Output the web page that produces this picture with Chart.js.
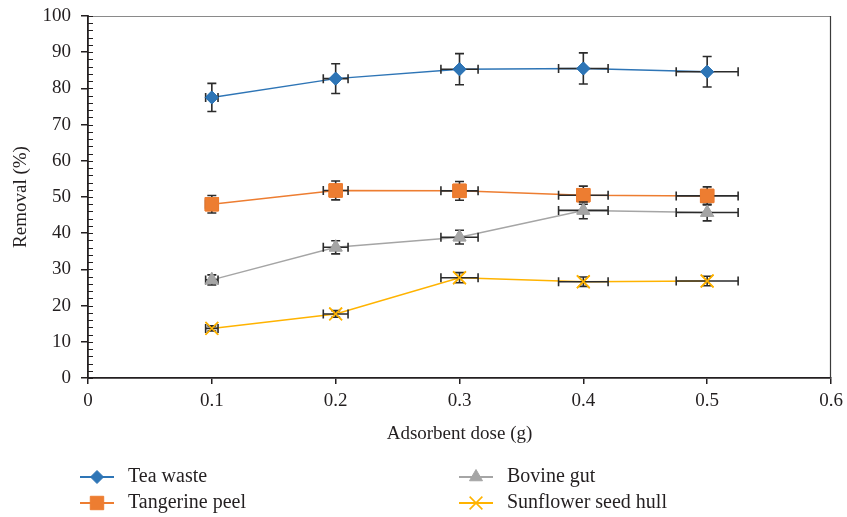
<!DOCTYPE html>
<html>
<head>
<meta charset="utf-8">
<script src="https://cdn.jsdelivr.net/npm/chart.js@4.4.1/dist/chart.umd.min.js"></script>
<style>
  html, body { margin: 0; padding: 0; background: #ffffff; }
  canvas { display: block; }
</style>
</head>
<body>
<canvas id="removalChart" width="847" height="517"></canvas>
<script>
// Adsorbent dose (g) and removal (%) per adsorbent
const doses = [0.1, 0.2, 0.3, 0.4, 0.5];
const teaWaste = [77.5, 82.7, 85.3, 85.5, 84.6];
const tangerinePeel = [48.0, 51.8, 51.7, 50.5, 50.3];
const bovineGut = [27.1, 36.1, 38.9, 46.3, 45.7];
const sunflowerHull = [13.7, 17.7, 27.7, 26.6, 26.8];

// Error bar half-widths: removal (%) and dose (g)
const teaWasteErr = [3.9, 4.1, 4.3, 4.3, 4.2];
const tangerinePeelErr = [2.4, 2.6, 2.6, 2.5, 2.5];
const bovineGutErr = [1.4, 1.8, 1.9, 2.3, 2.3];
const sunflowerHullErr = [0.7, 0.9, 1.4, 1.3, 1.3];
const doseErr = [0.005, 0.010, 0.015, 0.020, 0.025];

const seriesNames = ['Tea waste', 'Tangerine peel', 'Bovine gut', 'Sunflower seed hull'];
const xTickLabels = ['0', '0.1', '0.2', '0.3', '0.4', '0.5', '0.6'];
const yTickLabels = ['0', '10', '20', '30', '40', '50', '60', '70', '80', '90', '100'];

const INK = '#231f20';
const FONT = "'Liberation Serif', 'DejaVu Serif', serif";

function points(values) {
  return doses.map((d, i) => ({ x: d, y: values[i] }));
}

function series(label, values, yErr, color, style, radius, order) {
  return {
    label,
    data: points(values),
    yErr,
    xErr: doseErr,
    borderColor: color,
    backgroundColor: color,
    borderWidth: 1.5,
    pointStyle: style,
    pointRadius: radius,
    pointHoverRadius: radius,
    pointBorderWidth: style === 'crossRot' ? 1.6 : 1,
    pointBackgroundColor: color,
    pointBorderColor: color,
    tension: 0,
    fill: false,
    order
  };
}

// Error bars are drawn per series, then that series' markers are painted again on top
const errorBars = {
  id: 'errorBars',
  afterDatasetsDraw(chart) {
    const { ctx, scales: { x, y } } = chart;
    const metas = chart.getSortedVisibleDatasetMetas().slice().reverse();
    metas.forEach(meta => {
      const ds = chart.data.datasets[meta.index];
      ctx.save();
      ctx.strokeStyle = '#2b2b2b';
      ctx.lineWidth = 1.6;
      ctx.lineCap = 'butt';
      ds.data.forEach((p, i) => {
        const px = x.getPixelForValue(p.x);
        const py = y.getPixelForValue(p.y);
        const yt = y.getPixelForValue(p.y + ds.yErr[i]);
        const yb = y.getPixelForValue(p.y - ds.yErr[i]);
        const xl = x.getPixelForValue(p.x - ds.xErr[i]);
        const xr = x.getPixelForValue(p.x + ds.xErr[i]);
        const cap = 4.5;
        ctx.beginPath();
        ctx.moveTo(px, yt); ctx.lineTo(px, yb);
        ctx.moveTo(px - cap, yt); ctx.lineTo(px + cap, yt);
        ctx.moveTo(px - cap, yb); ctx.lineTo(px + cap, yb);
        ctx.moveTo(xl, py); ctx.lineTo(xr, py);
        ctx.moveTo(xl, py - cap); ctx.lineTo(xl, py + cap);
        ctx.moveTo(xr, py - cap); ctx.lineTo(xr, py + cap);
        ctx.stroke();
      });
      ctx.restore();
      meta.data.forEach(el => el.draw(ctx, chart.chartArea));
    });
  }
};

// Plot frame (top/right) and minor ticks inside the value axis
const frame = {
  id: 'frame',
  beforeDatasetsDraw(chart) {
    const { ctx, chartArea: a, scales: { y } } = chart;
    ctx.save();
    ctx.lineWidth = 1.2;
    ctx.strokeStyle = '#8a8a8a';
    ctx.beginPath();
    ctx.moveTo(a.left, a.top + 0.5); ctx.lineTo(a.right, a.top + 0.5);
    ctx.stroke();
    ctx.strokeStyle = '#3a3a3a';
    ctx.beginPath();
    ctx.moveTo(a.right - 0.5, a.top); ctx.lineTo(a.right - 0.5, a.bottom);
    ctx.stroke();
    ctx.strokeStyle = INK;
    ctx.lineWidth = 1;
    ctx.beginPath();
    for (let v = y.min; v <= y.max; v += 2) {
      const py = Math.round(y.getPixelForValue(v)) + 0.5;
      ctx.moveTo(a.left, py); ctx.lineTo(a.left + 5, py);
    }
    ctx.stroke();
    ctx.restore();
  }
};

// Two-column legend under the axis title
const twoColumnLegend = {
  id: 'twoColumnLegend',
  afterDraw(chart) {
    const { ctx } = chart;
    const cols = [80, 459];
    const rows = [477, 503];
    const slots = [[0, 0, 0], [2, 1, 0], [1, 0, 1], [3, 1, 1]];
    const drawPoint = Chart.helpers && Chart.helpers.drawPoint;
    slots.forEach(([di, c, r]) => {
      const ds = chart.data.datasets[di];
      const x0 = cols[c], yc = rows[r];
      ctx.save();
      ctx.strokeStyle = ds.borderColor;
      ctx.lineWidth = 2;
      ctx.beginPath();
      ctx.moveTo(x0, yc); ctx.lineTo(x0 + 34, yc);
      ctx.stroke();
      if (drawPoint) {
        ctx.fillStyle = ds.backgroundColor;
        ctx.strokeStyle = ds.borderColor;
        ctx.lineWidth = ds.pointBorderWidth;
        drawPoint(ctx, { pointStyle: ds.pointStyle, radius: ds.pointRadius, rotation: 0, borderWidth: ds.pointBorderWidth }, x0 + 17, yc);
      }
      ctx.fillStyle = INK;
      ctx.font = "20px " + FONT;
      ctx.textAlign = 'left';
      ctx.textBaseline = 'middle';
      ctx.fillText(ds.label, x0 + 48, yc);
      ctx.restore();
    });
  }
};

new Chart(document.getElementById('removalChart'), {
  type: 'line',
  data: {
    datasets: [
      series(seriesNames[0], teaWaste, teaWasteErr, '#2e75b6', 'rectRot', 6.5, 4),
      series(seriesNames[1], tangerinePeel, tangerinePeelErr, '#ed7d31', 'rect', 9.5, 3),
      series(seriesNames[2], bovineGut, bovineGutErr, '#a5a5a5', 'triangle', 7.5, 2),
      series(seriesNames[3], sunflowerHull, sunflowerHullErr, '#ffb300', 'crossRot', 9, 1)
    ]
  },
  options: {
    responsive: false,
    animation: false,
    events: [],
    layout: { padding: { top: 16, right: 16, left: 0, bottom: 0 } },
    plugins: {
      legend: { display: false },
      tooltip: { enabled: false }
    },
    scales: {
      x: {
        type: 'linear',
        min: 0,
        max: 0.6,
        afterFit(scale) {
          scale.height = 139;
          scale.paddingLeft = 0;
          scale.paddingRight = 0;
        },
        afterBuildTicks(scale) {
          scale.ticks = xTickLabels.map(t => ({ value: parseFloat(t) }));
        },
        ticks: {
          autoSkip: false,
          maxRotation: 0,
          padding: 6,
          color: INK,
          font: { family: FONT, size: 19 },
          callback: (v, i) => xTickLabels[i]
        },
        grid: { drawOnChartArea: false, color: INK, lineWidth: 1.5, tickLength: 6 },
        border: { color: INK, width: 1.8 },
        title: {
          display: true,
          text: 'Adsorbent dose (g)',
          color: INK,
          font: { family: FONT, size: 19 },
          padding: { top: 0, bottom: 72 }
        }
      },
      y: {
        min: 0,
        max: 100,
        afterFit(scale) {
          scale.width = 88;
          scale.paddingTop = 0;
          scale.paddingBottom = 0;
        },
        afterBuildTicks(scale) {
          scale.ticks = yTickLabels.map(t => ({ value: parseFloat(t) }));
        },
        ticks: {
          autoSkip: false,
          padding: 10,
          color: INK,
          font: { family: FONT, size: 19 },
          callback: (v, i) => yTickLabels[i]
        },
        grid: { drawOnChartArea: false, color: INK, lineWidth: 1.5, tickLength: 7 },
        border: { color: INK, width: 1.8 },
        title: {
          display: true,
          text: 'Removal (%)',
          color: INK,
          font: { family: FONT, size: 19 },
          padding: { top: 10, bottom: 0 }
        }
      }
    }
  },
  plugins: [frame, errorBars, twoColumnLegend]
});
</script>
</body>
</html>
